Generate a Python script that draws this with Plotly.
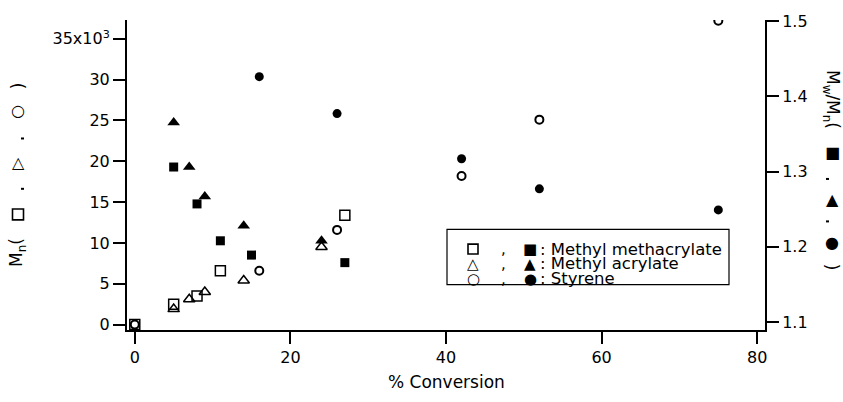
import plotly.graph_objects as go

# ---- data ----
# Mn (left axis)
mma_x_mn = [0, 5, 8, 11, 27]
mma_mn = [0, 2500, 3500, 6600, 13400]
ma_x_mn = [5, 7, 9, 14, 24]
ma_mn = [1900, 3100, 4000, 5400, 9500]
st_x_mn = [0, 16, 26, 42, 52, 75]
st_mn = [0, 6600, 11600, 18200, 25100, 37200]

# Mw/Mn (right axis)
mma_x_pd = [5, 8, 11, 15, 27]
mma_pd = [1.306, 1.257, 1.208, 1.189, 1.179]
ma_x_pd = [5, 7, 9, 14, 24]
ma_pd = [1.365, 1.306, 1.267, 1.228, 1.208]
st_x_pd = [16, 26, 42, 52, 75]
st_pd = [1.426, 1.377, 1.317, 1.277, 1.249]

x_ticks = [0, 20, 40, 60, 80]
y_ticks = [0, 5000, 10000, 15000, 20000, 25000, 30000, 35000]
y_ticktext = ["0", "5", "10", "15", "20", "25", "30", "35x10<sup>3</sup>"]
y2_ticks = [1.1, 1.2, 1.3, 1.4, 1.5]
y2_ticktext = ["1.1", "1.2", "1.3", "1.4", "1.5"]

legend_rows = [(None, "■", ": Methyl methacrylate"),
               ("△", "▲", ": Methyl acrylate"),
               ("○", "●", ": Styrene")]

FONT = "DejaVu Sans"

fig = go.Figure()

def add(x, y, symbol, size, axis="y", lw=1.5):
    fig.add_trace(go.Scatter(
        x=x, y=y, mode="markers", yaxis=axis, showlegend=False,
        marker=dict(symbol=symbol, size=size, color="black",
                    line=dict(color="black", width=lw))))

add(mma_x_mn, mma_mn, "square-open", 10)
add(ma_x_mn, ma_mn, "triangle-up-open", 10)
add(st_x_mn, st_mn, "circle-open", 8, lw=2)
add(mma_x_pd, mma_pd, "square", 9, "y2", 0)
add(ma_x_pd, ma_pd, "triangle-up", 11, "y2", 0)
add(st_x_pd, st_pd, "circle", 9, "y2", 0)

L, R, T, B = 127, 78, 16, 72
W, H = 843, 402
pw, ph = W - L - R, H - T - B

def px(x):
    return (x - L) / pw

def py(y):
    return (H - B - y) / ph

axis_common = dict(showgrid=False, zeroline=False, showline=True,
                   linecolor="black", linewidth=2, ticks="outside",
                   ticklen=12, tickwidth=1.5, tickcolor="black",
                   tickfont=dict(family=FONT, size=16, color="black"))

fig.update_layout(
    width=W, height=H,
    margin=dict(l=L, r=R, t=T, b=B),
    paper_bgcolor="white", plot_bgcolor="white",
    font=dict(family=FONT, color="black"),
    xaxis=dict(range=[-1, 81], tickvals=x_ticks, **axis_common),
    yaxis=dict(range=[-660, 37300], tickvals=y_ticks, ticktext=y_ticktext,
               **axis_common),
    yaxis2=dict(range=[1.0895, 1.5013], tickvals=y2_ticks,
                ticktext=y2_ticktext, overlaying="y", side="right",
                **axis_common),
)

ann = []
shapes = []

def note(text, x, y, size=17, angle=0, anchor="center"):
    ann.append(dict(text=text, x=px(x), y=py(y), xref="paper", yref="paper",
                    showarrow=False, textangle=angle, xanchor=anchor,
                    yanchor="middle", borderpad=0,
                    font=dict(family=FONT, size=size, color="black")))

def open_square(cx, cy, s):
    shapes.append(dict(type="rect", xref="paper", yref="paper",
                       x0=px(cx - s / 2), x1=px(cx + s / 2),
                       y0=py(cy + s / 2), y1=py(cy - s / 2),
                       line=dict(color="black", width=1.6)))

def dash(x0, x1, y):
    shapes.append(dict(type="line", xref="paper", yref="paper",
                       x0=px(x0), x1=px(x1), y0=py(y), y1=py(y),
                       line=dict(color="black", width=2)))

note("% Conversion", 447, 383)

# left axis title: M_n( □ , △ , ○ )
note("M<sub>n</sub>(", 18, 252, angle=-90)
open_square(18, 213, 11)
dash(21, 24, 187)
note("<b>△</b>", 18, 160, size=16)
dash(21, 24, 136)
note("<b>○</b>", 18, 108, size=16)
note(")", 18, 83, angle=-90)

# right axis title: M_w/M_n( ■ , ▲ , ● )
note("M<sub>w</sub>/M<sub>n</sub>(", 831, 96, angle=90)
note("■", 832, 150, size=16)
dash(826, 829, 177)
note("▲", 832, 198, size=16)
dash(826, 829, 220)
note("●", 832, 241, size=16)
note(")", 832, 266, angle=90)

row_y = [248, 263, 278]
for (o, f, label), yy in zip(legend_rows, row_y):
    if o is None:
        open_square(473, yy, 10)
    else:
        note("<b>" + o + "</b>", 473, yy, size=15)
    note(",", 503, yy, size=15)
    note(f, 530, yy, size=15)
    note(label, 539, yy, size=16.5, anchor="left")

shapes.append(dict(type="rect", xref="paper", yref="paper",
                   x0=px(447), x1=px(729), y0=py(284), y1=py(228),
                   line=dict(color="black", width=1.2), fillcolor="white",
                   layer="below"))

fig.update_layout(annotations=ann, shapes=shapes)

fig.write_html("out.html",
               config={"displayModeBar": False},
               post_script="document.body.style.margin='0';")
